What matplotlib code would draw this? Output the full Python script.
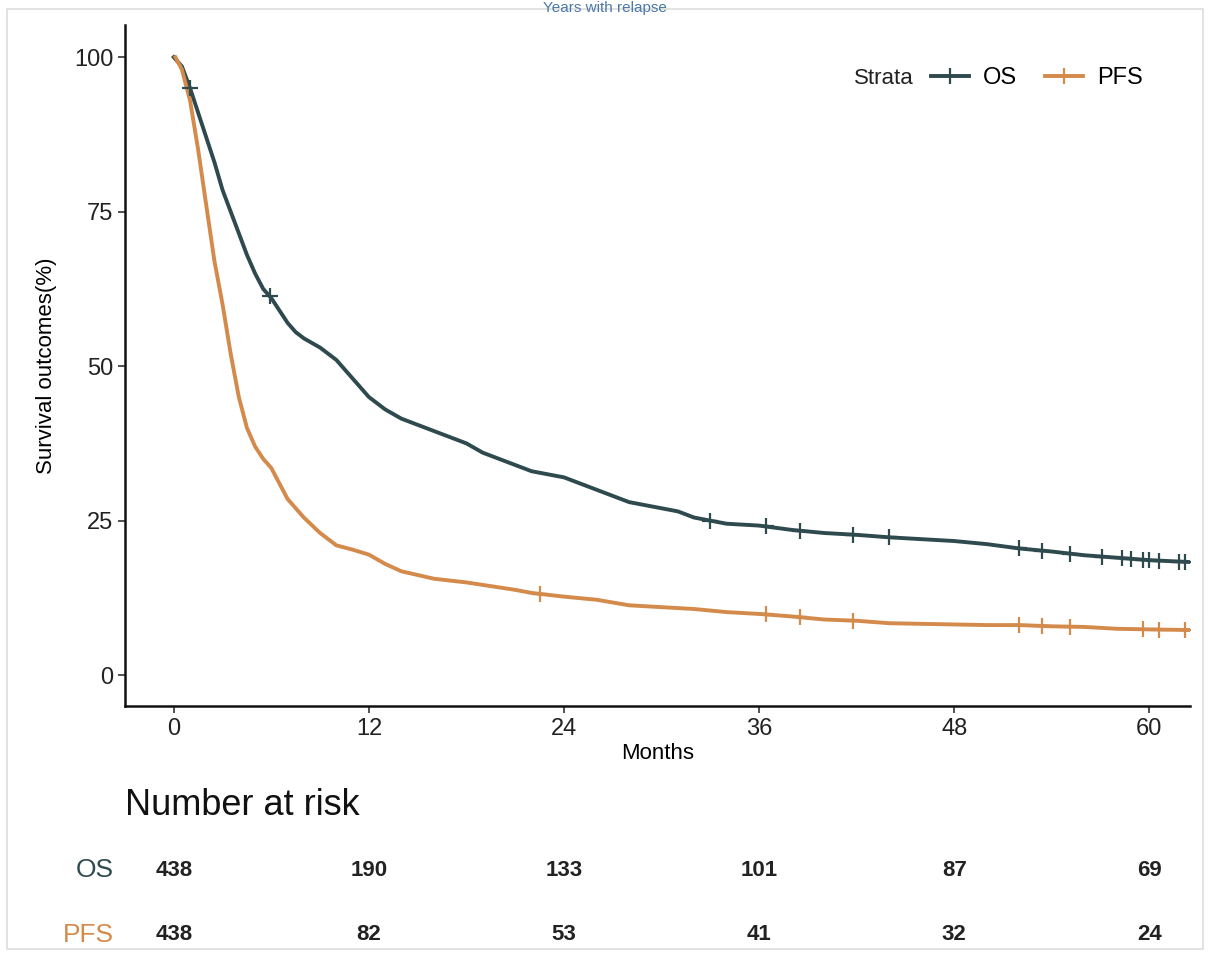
import matplotlib.pyplot as plt
import numpy as np
from matplotlib.lines import Line2D
from matplotlib.patches import Rectangle

plt.rcParams['font.family'] = ['Liberation Sans', 'DejaVu Sans']

# Kaplan-Meier curves (months, survival %)
os_t = [0, 0.5, 1, 1.5, 2, 2.5, 3, 3.5, 4, 4.5, 5, 5.5, 6, 6.5, 7, 7.5, 8, 9, 10, 11,
        12, 13, 14, 15, 16, 17, 18, 19, 20, 21, 22, 23, 24, 25, 26, 27, 28, 29, 30, 31,
        32, 33, 34, 36, 38, 40, 42, 44, 46, 48, 50, 52, 54, 56, 58, 60, 62.5]
os_s = [100, 98.5, 95, 91, 87, 83, 78.5, 75, 71.5, 68, 65, 62.5, 61, 59, 57, 55.5, 54.5, 53, 51, 48,
        45, 43, 41.5, 40.5, 39.5, 38.5, 37.5, 36, 35, 34, 33, 32.5, 32, 31, 30, 29, 28, 27.5, 27, 26.5,
        25.5, 25, 24.5, 24.2, 23.5, 23, 22.7, 22.3, 22, 21.7, 21.2, 20.5, 20, 19.4, 19, 18.6, 18.3]

pfs_t = [0.1, 0.5, 1, 1.5, 2, 2.5, 3, 3.5, 4, 4.5, 5, 5.5, 6, 6.5, 7, 7.5, 8, 9, 10, 11,
         12, 13, 14, 15, 16, 17, 18, 19, 20, 21, 22, 23, 24, 26, 28, 30, 32, 34, 36, 38,
         40, 42, 44, 46, 48, 50, 52, 54, 56, 58, 60, 62.5]
pfs_s = [100, 98, 93, 85, 76, 67, 60, 52, 45, 40, 37, 35, 33.5, 31, 28.5, 27, 25.5, 23, 21, 20.3,
         19.5, 18, 16.8, 16.2, 15.6, 15.3, 15, 14.6, 14.2, 13.8, 13.3, 13, 12.7, 12.2, 11.3, 11, 10.7, 10.2, 9.9, 9.5,
         9, 8.8, 8.4, 8.3, 8.2, 8.1, 8.1, 7.9, 7.8, 7.5, 7.4, 7.3]

# censoring times
os_cens = [1, 5.9, 33.0, 36.4, 38.5, 41.8, 44.0, 52.0, 53.4, 55.1, 57.1, 58.3, 58.9, 59.6, 60.0, 60.6, 61.8, 62.2]
pfs_cens = [22.5, 36.4, 38.5, 41.8, 52.0, 53.4, 55.1, 59.6, 60.6, 62.2]

# number at risk table
risk_times = [0, 12, 24, 36, 48, 60]
os_risk = [438, 190, 133, 101, 87, 69]
pfs_risk = [438, 82, 53, 41, 32, 24]

os_col = '#2F4A4E'
pfs_col = '#D38A4B'
lw = 2.8

fig = plt.figure(figsize=(12.1, 9.55), dpi=100)
ax = fig.add_axes([0.1033, 0.2607, 0.8802, 0.7131])

ax.plot(os_t, os_s, color=os_col, lw=lw)
ax.plot(pfs_t, pfs_s, color=pfs_col, lw=lw)
ax.plot(os_cens, np.interp(os_cens, os_t, os_s), ls='none', marker='+', ms=12, mew=1.6, color=os_col)
ax.plot(pfs_cens, np.interp(pfs_cens, pfs_t, pfs_s), ls='none', marker='+', ms=12, mew=1.6, color=pfs_col)

ax.set_xlim(-3.0, 62.5)
ax.set_ylim(-5, 105.2)
ax.set_xticks(risk_times)
ax.set_yticks([0, 25, 50, 75, 100])
ax.tick_params(labelsize=17, length=5, width=1.2, color='#333333', labelcolor='#222222')
for s in ['top', 'right']:
    ax.spines[s].set_visible(False)
for s in ['left', 'bottom']:
    ax.spines[s].set_linewidth(1.8)
    ax.spines[s].set_color('#111111')

ax.set_xlabel('Months', fontsize=16, labelpad=2)
ax.set_ylabel('Survival outcomes(%)', fontsize=16, labelpad=12)

# legend: "Strata" followed by the two entries on one row
handles = [Line2D([], [], color=os_col, lw=lw, marker='+', ms=12, mew=1.6),
           Line2D([], [], color=pfs_col, lw=lw, marker='+', ms=12, mew=1.6)]
fig.legend(handles, ['OS', 'PFS'], ncol=2, loc='center', bbox_to_anchor=(0.857, 0.918),
           frameon=False, fontsize=17, handlelength=1.6, columnspacing=1.2, handletextpad=0.6)
fig.text(0.755, 0.918, 'Strata', ha='right', va='center', fontsize=16, color='#222222')

fig.text(0.5, 0.999, 'Years with relapse', ha='center', va='top', fontsize=11, color='#4A78A8')

# risk table
fig.text(0.1033, 0.157, 'Number at risk', fontsize=26, color='#111111', va='center')
y_os = 0.089
y_pfs = 0.021
for t, n1, n2 in zip(risk_times, os_risk, pfs_risk):
    xd = fig.transFigure.inverted().transform(ax.transData.transform((t, 0)))[0]
    fig.text(xd, y_os, str(n1), ha='center', va='center', fontsize=16, fontweight='bold', color='#222222')
    fig.text(xd, y_pfs, str(n2), ha='center', va='center', fontsize=16, fontweight='bold', color='#222222')
fig.text(0.094, y_os, 'OS', ha='right', va='center', fontsize=19, color=os_col)
fig.text(0.094, y_pfs, 'PFS', ha='right', va='center', fontsize=19, color=pfs_col)

fig.patches.append(Rectangle((0.006, 0.006), 0.988, 0.985, transform=fig.transFigure,
                             fill=False, edgecolor='#DDDDDD', lw=1.2))

fig.savefig('out.png', dpi=100)
